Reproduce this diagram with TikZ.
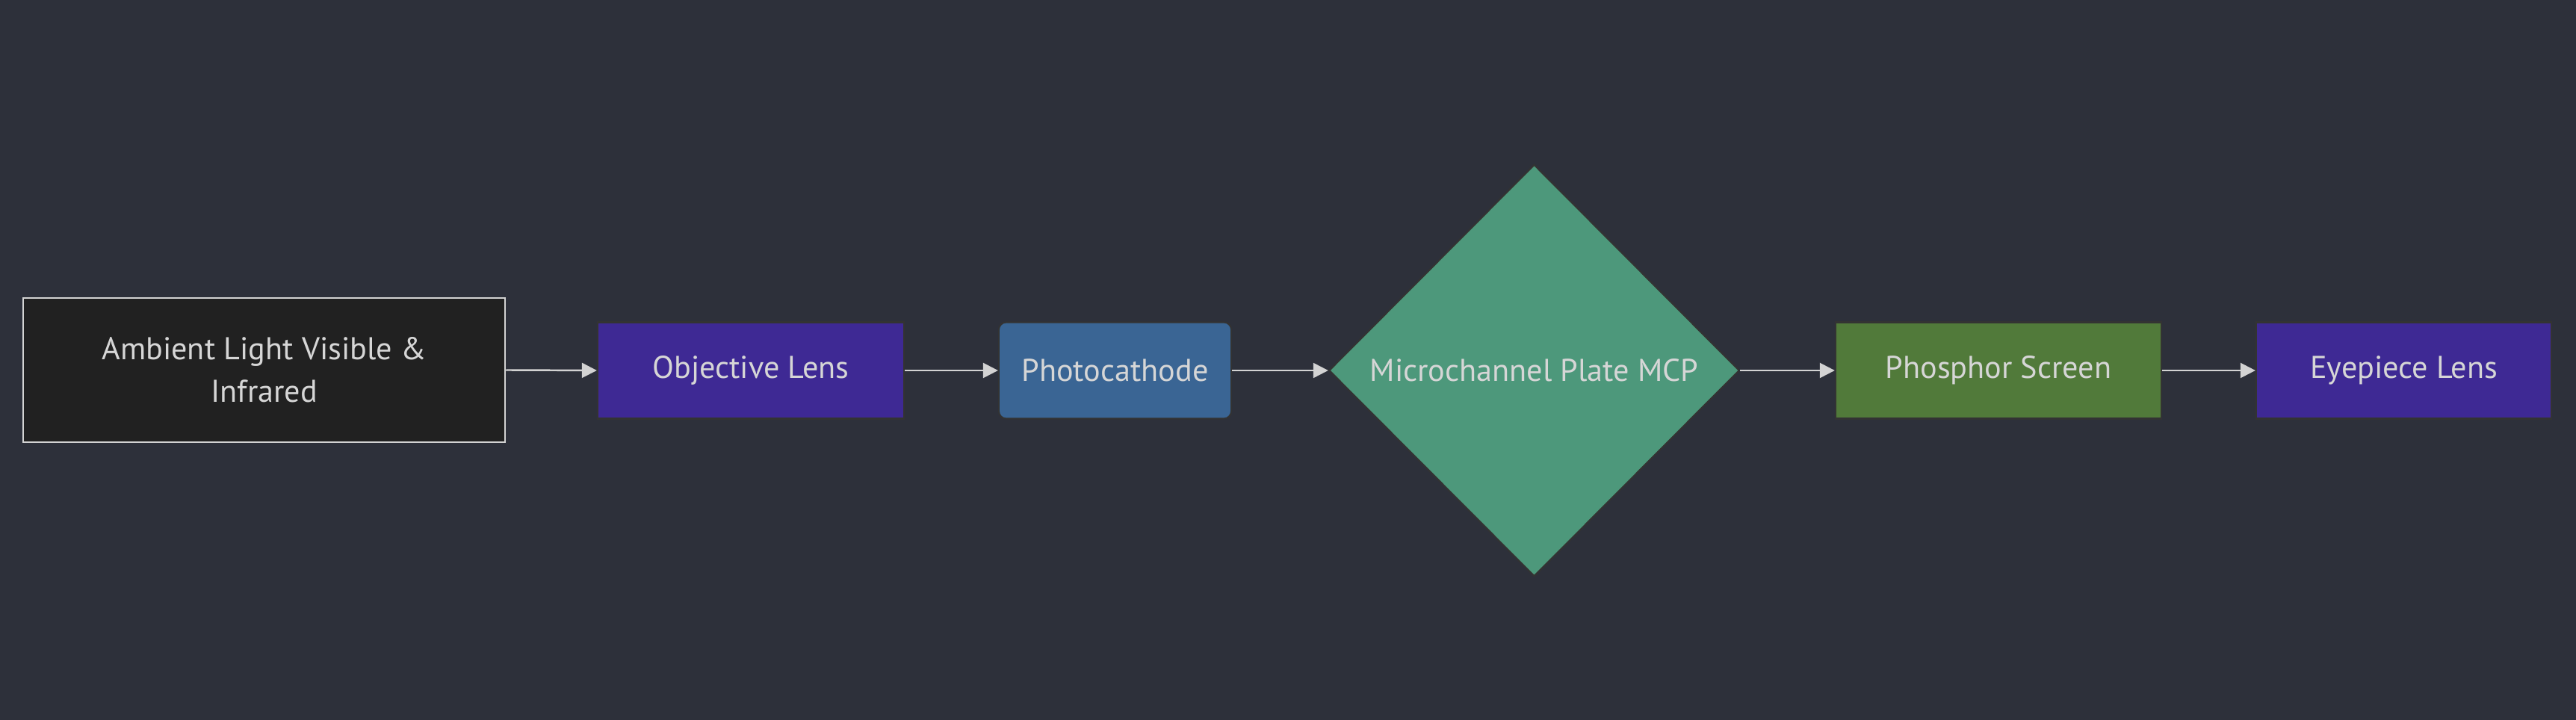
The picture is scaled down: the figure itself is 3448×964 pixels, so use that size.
\documentclass[tikz,border=0pt]{standalone}
\usepackage{fontspec}
\setmainfont{PT Sans}
\usetikzlibrary{shapes.geometric,arrows.meta}

\definecolor{nvbg}{RGB}{45, 48, 58}
\definecolor{nvambient}{RGB}{33, 33, 33}
\definecolor{nvlens}{RGB}{62, 41, 148}
\definecolor{nvcathode}{RGB}{58, 101, 148}
\definecolor{nvmcp}{RGB}{77, 152, 123}
\definecolor{nvphosphor}{RGB}{81, 122, 58}
\definecolor{nvedge}{RGB}{51, 51, 51}
\definecolor{nvtext}{RGB}{214, 214, 214}
\definecolor{nvarrow}{RGB}{211, 211, 211}

\begin{document}
\begin{tikzpicture}[
  x=0.01cm,
  y=0.01cm,
  box/.style={draw=nvedge, line width=0.6pt, inner sep=0pt, minimum height=1.29cm,
    font=\fontsize{12}{16.2}\selectfont, text=nvtext, align=center},
  flow/.style={draw=nvarrow, line width=0.7pt, -{Triangle[length=0.2cm, width=0.2cm]}}
]

  % Canvas
  \fill[nvbg] (0, 0) rectangle (3448, 964);
  \useasboundingbox (0, 0) rectangle (3448, 964);

  % Stages of the tube
  \node[box, draw=nvarrow, fill=nvambient, minimum width=6.45cm, minimum height=1.93cm]
    (ambient) at (353.5, 468.5) {Ambient Light Visible \&\\Infrared};
  \node[box, fill=nvlens, minimum width=4.10cm] (objective) at (1005, 468) {Objective Lens};
  \node[box, fill=nvcathode, minimum width=3.11cm, rounded corners=0.1cm]
    (cathode) at (1492.5, 468) {Photocathode};
  \node[box, shape=diamond, fill=nvmcp, minimum width=5.49cm, minimum height=5.51cm]
    (mcp) at (2053.5, 468) {Microchannel Plate MCP};
  \node[box, fill=nvphosphor, minimum width=4.36cm] (phosphor) at (2675, 468) {Phosphor Screen};
  \node[box, fill=nvlens, minimum width=3.95cm] (eyepiece) at (3217.5, 468) {Eyepiece Lens};

  % Connectors
  \draw[flow] (ambient.east) -- (objective.west);
  \draw[flow] (objective.east) -- (cathode.west);
  \draw[flow] (cathode.east) -- (mcp.west);
  \draw[flow] (mcp.east) -- (phosphor.west);
  \draw[flow] (phosphor.east) -- (eyepiece.west);

\end{tikzpicture}
\end{document}
